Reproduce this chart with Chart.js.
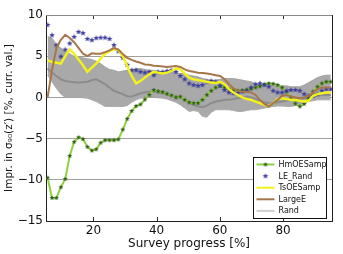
<!DOCTYPE html>
<html>
<head>
<meta charset="utf-8">
<script src="https://cdn.jsdelivr.net/npm/chart.js@4"></script>
<style>
html, body { margin: 0; padding: 0; background: #fff; }
#wrap { width: 343px; height: 254px; }
</style>
</head>
<body>
<div id="wrap"><canvas id="myChart" width="343" height="254"></canvas></div>
<script>

// survey progress [%] for each evaluation step
const progress = [5.5,6.9,8.3,9.7,11.1,12.5,13.9,15.3,16.7,18.1,19.5,20.9,22.3,23.7,25.1,26.5,27.9,29.3,30.7,32.1,
  33.5,34.9,36.3,37.7,39.1,40.5,41.9,43.3,44.7,46.1,47.5,48.9,50.3,51.7,53.1,54.5,55.9,57.3,58.7,60.1,
  61.5,62.9,64.3,65.7,67.1,68.5,69.9,71.3,72.7,74.1,75.5,76.9,78.3,79.7,81.1,82.5,83.9,85.3,86.7,88.1,
  89.5,90.9,92.3,93.7,95.1];

const hmOESamp = [-9.75,-12.2,-12.2,-10.9,-9.9,-7.1,-5.4,-4.85,-5.05,-6.0,
  -6.45,-6.3,-5.5,-5.2,-5.2,-5.2,-5.1,-3.9,-2.6,-1.65,
  -1.05,-0.85,-0.25,0.3,0.9,0.75,0.65,0.45,0.25,0.0,
  0.1,-0.3,-0.6,-0.7,-0.7,-0.3,0.3,0.8,1.2,1.4,
  1.2,1.0,0.85,0.8,0.85,0.95,1.05,1.2,1.35,1.6,
  1.7,1.65,1.5,1.2,0.7,0.0,-0.75,-1.1,-0.8,-0.1,
  0.7,1.3,1.7,1.9,1.9];

const leRand = [8.8,7.55,6.35,4.95,5.8,6.55,7.35,7.95,7.8,7.1,
  6.95,7.2,7.25,7.25,7.1,6.35,5.6,4.8,3.95,3.3,
  3.3,3.1,3.0,3.1,2.7,3.1,3.1,3.2,3.3,3.1,
  2.6,2.2,1.7,1.5,1.4,1.5,1.9,2.0,1.9,1.4,
  0.9,0.6,0.5,0.5,0.7,0.8,1.2,1.6,1.7,1.5,
  1.3,0.8,0.6,0.6,0.8,0.9,0.9,0.8,0.4,0.2,
  0.2,0.4,0.8,1.0,1.0];

const tsOESamp = [4.5,4.3,4.2,4.1,5.0,5.85,5.3,4.6,3.9,3.1,
  3.6,4.1,4.7,5.3,5.6,5.85,5.75,5.0,3.8,2.6,
  1.7,2.0,2.4,2.8,3.1,3.0,2.9,3.0,3.2,3.5,
  3.4,2.9,2.4,2.2,2.1,2.0,1.9,1.8,1.75,1.9,
  1.6,1.0,0.6,0.3,0.0,-0.2,-0.3,-0.5,-0.7,-0.9,
  -1.05,-0.7,-0.2,-0.1,-0.2,-0.3,-0.3,-0.4,-0.5,-0.4,
  0.2,0.4,0.5,0.6,0.6];

const largeE = [0.0,3.3,6.0,7.0,7.6,7.2,6.7,6.0,5.3,5.0,
  5.35,5.3,5.3,5.5,5.7,6.0,5.8,5.25,4.8,4.55,
  4.35,4.2,4.0,3.95,3.85,3.8,3.75,3.7,3.75,3.8,
  3.7,3.4,3.2,3.1,3.0,2.95,2.9,2.8,2.7,2.6,
  2.2,1.6,1.1,0.8,0.7,0.7,0.6,0.3,-0.3,-0.8,
  -1.1,-0.7,-0.3,0.2,0.3,0.1,0.0,-0.1,0.0,0.2,
  0.6,1.0,1.2,1.2,1.2];

const rand = [3.5,3.0,2.6,2.2,2.0,1.9,1.85,1.8,1.85,1.9,
  2.1,2.2,1.9,1.6,1.2,0.8,0.6,0.4,0.15,0.1,
  0.3,0.5,0.6,0.7,0.7,0.6,0.5,0.35,0.2,0.1,
  0.0,-0.3,-0.6,-0.9,-1.1,-1.2,-1.0,-0.7,-0.5,-0.4,
  -0.3,-0.3,-0.2,-0.1,0.0,0.1,0.0,-0.2,-0.4,-0.6,
  -0.7,-0.7,-0.6,-0.5,-0.4,-0.3,-0.3,-0.2,-0.1,0.0,
  0.1,0.2,0.3,0.3,0.3];

// spread of the Rand runs (shaded band)
const randHi = [7.4,7.2,6.4,6.0,5.6,5.3,5.0,4.9,4.8,4.7,
  4.6,4.4,4.1,3.7,3.4,3.3,3.1,3.2,3.3,3.4,
  3.5,3.5,3.4,3.3,3.3,3.2,3.1,3.1,3.0,3.0,
  2.9,2.9,2.7,2.6,2.5,2.3,2.2,2.1,2.1,2.2,
  2.3,2.3,2.3,2.2,2.1,2.0,1.9,1.7,1.5,1.5,
  1.5,1.4,1.4,1.4,1.4,1.3,1.3,1.3,1.5,1.8,
  2.1,2.4,2.6,2.7,2.7];

const randLo = [2.7,1.9,1.1,0.4,0.0,0.0,0.0,0.0,-0.05,-0.1,
  -0.3,-0.5,-0.8,-1.1,-1.1,-1.1,-1.1,-1.1,-1.0,-0.6,
  -0.3,-0.1,-0.05,0.0,0.0,-0.05,-0.1,-0.2,-0.4,-0.6,
  -0.9,-1.3,-1.7,-1.6,-1.7,-2.3,-2.4,-1.8,-1.5,-1.5,
  -1.5,-1.5,-1.6,-1.7,-1.7,-1.6,-1.5,-1.5,-1.4,-1.3,
  -1.2,-1.1,-1.05,-1.05,-1.1,-1.1,-1.0,-0.9,-0.7,-0.5,
  -0.4,-0.3,-0.3,-0.3,-0.3];

const yTicks = [-15, -10, -5, 0, 5, 10];
const xTicks = [20, 40, 60, 80];

const FONT = 'DejaVu Sans';

let pts = ys => ys.map((y, i) => ({x: progress[i], y: y}));

// filled five point star, like matplotlib's '*' marker
function makeStar(r, fill) {
  var s = Math.ceil(r * 2) + 2;
  var c = document.createElement('canvas');
  c.width = s; c.height = s;
  var g = c.getContext('2d');
  g.beginPath();
  for (var k = 0; k < 10; k++) {
    var a = -Math.PI / 2 + k * Math.PI / 5;
    var rr = k % 2 ? r * 0.45 : r;
    g.lineTo(s / 2 + rr * Math.cos(a), s / 2 + rr * Math.sin(a));
  }
  g.closePath();
  g.fillStyle = fill;
  g.fill();
  return c;
}

const greenStar = makeStar(2.6, '#2f5a18');
const blueStar = makeStar(3.0, '#3b3b9c');

// legend entries, drawn by the plugin below
const legendItems = [
  {label: 'HmOESamp', color: '#8fd13f', width: 2, marker: greenStar},
  {label: 'LE_Rand', color: null, width: 0, marker: blueStar},
  {label: 'TsOESamp', color: '#f2f21a', width: 2, marker: null},
  {label: 'LargeE', color: '#a8764a', width: 2, marker: null},
  {label: 'Rand', color: '#cfcfcf', width: 2, marker: null}
];

const framePlugin = {
  id: 'frame',
  afterDraw(chart) {
    const ctx = chart.ctx;
    const a = chart.chartArea;
    const xs = chart.scales.x;
    ctx.save();
    // inward x ticks, bottom and top
    ctx.strokeStyle = '#333';
    ctx.lineWidth = 1;
    xTicks.forEach(v => {
      const px = Math.round(xs.getPixelForValue(v)) + 0.5;
      ctx.beginPath();
      ctx.moveTo(px, a.bottom); ctx.lineTo(px, a.bottom - 4);
      ctx.moveTo(px, a.top); ctx.lineTo(px, a.top + 4);
      ctx.stroke();
    });
    // box round the plot
    ctx.strokeStyle = '#8a8a8a';
    ctx.beginPath();
    ctx.moveTo(a.left, Math.round(a.top) + 0.5); ctx.lineTo(a.right, Math.round(a.top) + 0.5);
    ctx.stroke();
    ctx.strokeStyle = '#222';
    ctx.beginPath();
    ctx.moveTo(Math.round(a.right) + 0.5, a.top); ctx.lineTo(Math.round(a.right) + 0.5, a.bottom);
    ctx.stroke();

    // legend box
    const bx = 253.5, by = 157.5, bw = 73, bh = 61;
    ctx.fillStyle = '#fff';
    ctx.fillRect(bx, by, bw, bh);
    ctx.strokeStyle = '#111';
    ctx.strokeRect(bx, by, bw, bh);
    ctx.font = '8px "' + FONT + '"';
    ctx.textBaseline = 'middle';
    legendItems.forEach((it, k) => {
      const y = by + 7 + k * 11.6;
      if (it.color) {
        ctx.strokeStyle = it.color;
        ctx.lineWidth = it.width;
        ctx.beginPath();
        ctx.moveTo(bx + 3, y); ctx.lineTo(bx + 21, y);
        ctx.stroke();
      }
      if (it.marker) {
        ctx.drawImage(it.marker, bx + 12 - it.marker.width / 2, y - it.marker.height / 2);
      }
      ctx.fillStyle = '#111';
      ctx.fillText(it.label, bx + 25, y + 0.5);
    });
    ctx.restore();
  }
};

const ctxx = document.getElementById('myChart').getContext('2d');
const chart = new Chart(ctxx, {
  type: 'line',
  data: {
    datasets: [
      {
        label: 'LargeE', data: pts(largeE), order: 1,
        borderColor: '#a8764a', borderWidth: 2, pointRadius: 0, fill: false
      },
      {
        label: 'TsOESamp', data: pts(tsOESamp), order: 2,
        borderColor: '#f2f21a', borderWidth: 2.4, pointRadius: 0, fill: false
      },
      {
        label: 'LE_Rand', data: pts(leRand), order: 3, showLine: false,
        pointStyle: blueStar, pointRadius: 3, fill: false
      },
      {
        label: 'HmOESamp', data: pts(hmOESamp), order: 4,
        borderColor: '#8fd13f', borderWidth: 2, pointStyle: greenStar, pointRadius: 2.6, fill: false
      },
      {
        label: 'Rand', data: pts(rand), order: 5,
        borderColor: '#8c8c8c', borderWidth: 2, pointRadius: 0, fill: false
      },
      {
        label: 'randHi', data: pts(randHi), order: 6,
        borderColor: '#9a9a9a', borderWidth: 0.8, pointRadius: 0,
        fill: '+1', backgroundColor: '#a9a9a9'
      },
      {
        label: 'randLo', data: pts(randLo), order: 7,
        borderColor: '#9a9a9a', borderWidth: 0.8, pointRadius: 0, fill: false
      }
    ]
  },
  options: {
    responsive: false,
    animation: false,
    layout: {padding: {left: 0, top: 15, right: 11, bottom: 0}},
    plugins: {
      legend: {display: false},
      tooltip: {enabled: false}
    },
    scales: {
      x: {
        type: 'linear', min: 5, max: 95.5,
        afterFit: s => { s.height = 33; },
        afterBuildTicks: s => { s.ticks = xTicks.map(v => ({value: v})); },
        grid: {display: false, drawTicks: false},
        border: {display: true, color: '#222', width: 1},
        ticks: {color: '#111', padding: 3, font: {family: FONT, size: 12}},
        title: {display: true, text: 'Survey progress [%]', color: '#111',
                padding: {top: 0, bottom: 3}, font: {family: FONT, size: 12}}
      },
      y: {
        min: -15, max: 10,
        afterFit: s => { s.width = 46; },
        afterBuildTicks: s => { s.ticks = yTicks.map(v => ({value: v})); },
        grid: {color: '#a0a0a0', lineWidth: 1, drawTicks: false},
        border: {display: true, color: '#222', width: 1},
        ticks: {color: '#111', padding: 3, font: {family: FONT, size: 12},
                callback: v => String(v).replace('-', '\u2212')},
        title: {display: true, text: 'Impr. in \u03c3\u2089\u2080(z\u2032) [%, curr. val.]', color: '#111',
                padding: {top: 3, bottom: 0}, font: {family: FONT, size: 10.5}}
      }
    }
  },
  plugins: [framePlugin]
});
</script>
</body>
</html>
